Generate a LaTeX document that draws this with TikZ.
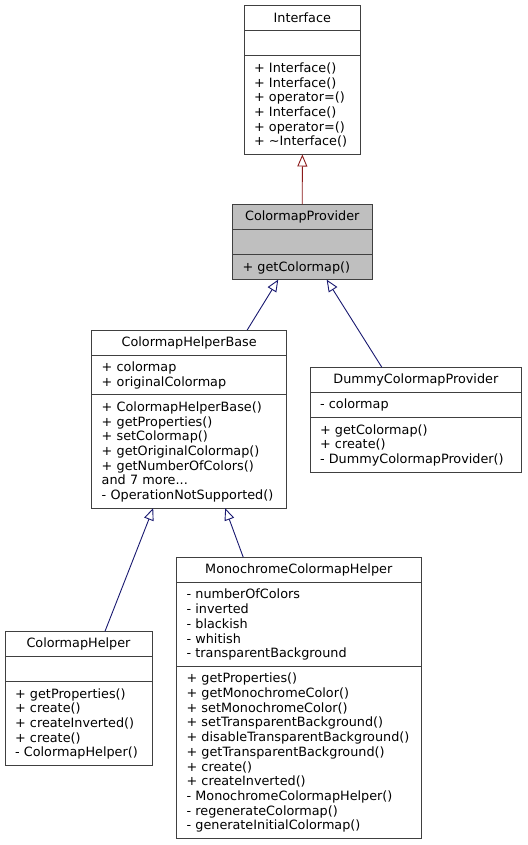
\documentclass[tikz,border=0pt]{standalone}
\usepackage{fontspec}
\setmainfont{DejaVu Sans}
\usetikzlibrary{shapes.multipart,arrows.meta}
\definecolor{edgeblue}{HTML}{191970}
\definecolor{edgered}{HTML}{8B1A1A}
\definecolor{classgray}{HTML}{BFBFBF}
\definecolor{classline}{HTML}{404040}
\def\cstrut{\rule[-3.4pt]{0pt}{14.7pt}}
\def\classtitle#1{\makebox[\hsize]{\cstrut #1}}

\begin{document}
\begin{tikzpicture}[x=1pt, y=-1pt,
	umlclass/.style={rectangle split, rectangle split parts=3, draw=classline, line width=1pt,
		anchor=north west, inner xsep=10pt, inner ysep=4.7pt, outer sep=0pt, align=left,
		font=\fontsize{12.8}{14.7}\selectfont},
	inherit/.style={draw=edgeblue, line width=0.9pt, -{Triangle[open, length=12pt, width=10pt]}},
	inheritpriv/.style={inherit, draw=edgered}]
			%%%%% START %%%%%
			
			\useasboundingbox (0, 0) rectangle (527, 845);
			
			\node[umlclass, text width=96.7pt] (interface) at (244, 5.7)
				{\classtitle{Interface}
				\nodepart{second}\cstrut
				\nodepart{third}\cstrut + Interface()\\ + Interface()\\ + operator=()\\ + Interface()\\ + operator=()\\ + \textasciitilde Interface()\cstrut};
			
			\node[umlclass, fill=classgray, text width=119.5pt] (provider) at (232.5, 204.3)
				{\classtitle{ColormapProvider}
				\nodepart{second}\cstrut
				\nodepart{third}\cstrut + getColormap()\cstrut};
			
			\node[umlclass, text width=175pt] (helperbase) at (91.7, 330)
				{\classtitle{ColormapHelperBase}
				\nodepart{second}\cstrut + colormap\\ + originalColormap\cstrut
				\nodepart{third}\cstrut + ColormapHelperBase()\\ + getProperties()\\ + setColormap()\\ + getOriginalColormap()\\ + getNumberOfColors()\\ and 7 more...\\ - OperationNotSupported()\cstrut};
			
			\node[umlclass, text width=191.7pt] (dummy) at (310, 367.3)
				{\classtitle{DummyColormapProvider}
				\nodepart{second}\cstrut - colormap\cstrut
				\nodepart{third}\cstrut + getColormap()\\ + create()\\ - DummyColormapProvider()\cstrut};
			
			\node[umlclass, text width=127pt] (helper) at (5, 631.3)
				{\classtitle{ColormapHelper}
				\nodepart{second}\cstrut
				\nodepart{third}\cstrut + getProperties()\\ + create()\\ + createInverted()\\ + create()\\ - ColormapHelper()\cstrut};
			
			\node[umlclass, text width=224.5pt] (mono) at (176.5, 557.3)
				{\classtitle{MonochromeColormapHelper}
				\nodepart{second}\cstrut - numberOfColors\\ - inverted\\ - blackish\\ - whitish\\ - transparentBackground\cstrut
				\nodepart{third}\cstrut + getProperties()\\ + getMonochromeColor()\\ + setMonochromeColor()\\ + setTransparentBackground()\\ +~disableTransparentBackground()\\ + getTransparentBackground()\\ + create()\\ + createInverted()\\ - MonochromeColormapHelper()\\ - regenerateColormap()\\ - generateInitialColormap()\cstrut};
			
			% inheritance
			\draw[inheritpriv] (provider.north) -- (interface.south);
			\draw[inherit] ([xshift=58pt]helperbase.north) -- ([xshift=-24pt]provider.south);
			\draw[inherit] ([xshift=-34pt]dummy.north) -- ([xshift=24.4pt]provider.south);
			\draw[inherit] ([xshift=26.5pt]helper.north) -- ([xshift=-36pt]helperbase.south);
			\draw[inherit] ([xshift=-55.5pt]mono.north) -- ([xshift=36pt]helperbase.south);
			
			%%%%% END %%%%%
\end{tikzpicture}
\end{document}
